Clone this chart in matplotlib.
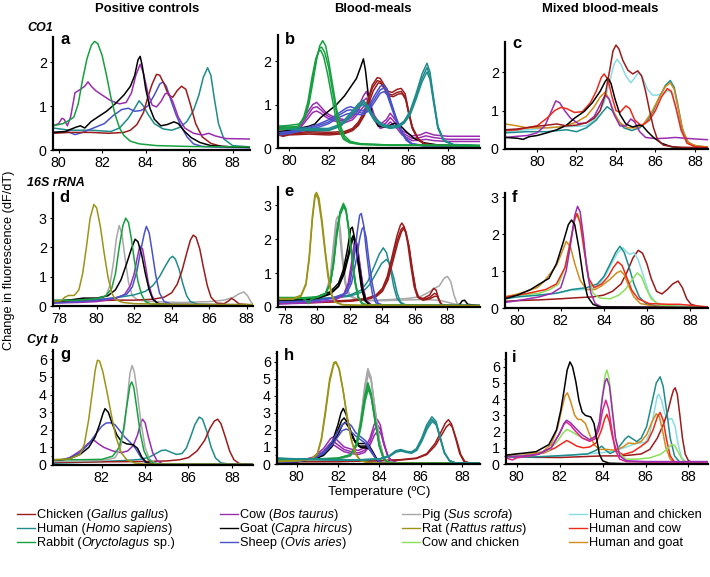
import matplotlib
matplotlib.use('Agg')
import matplotlib.pyplot as plt
from matplotlib.lines import Line2D
from matplotlib.ticker import MultipleLocator

plt.rcParams['font.family'] = ['Liberation Sans', 'DejaVu Sans']

# colours of the species / mixtures
C_CHICKEN = '#9b1c1c'
C_HUMAN = '#1f8c8c'
C_RABBIT = '#16a040'
C_COW = '#9a2db0'
C_GOAT = '#000000'
C_SHEEP = '#4a52c8'
C_PIG = '#a8a8a8'
C_RAT = '#9c9418'
C_COW_CHICKEN = '#8be05a'
C_HUMAN_CHICKEN = '#88dde4'
C_HUMAN_COW = '#ee2a1a'
C_HUMAN_GOAT = '#d08c1c'
C_PINK = '#e0208c'

# ---------------- CO1, positive controls (a) ----------------
a_rabbit = [(79.74,.55),(80.2,.6),(80.5,.68),(80.7,.75),(80.9,1.05),(81.1,1.6),(81.3,2.07),(81.5,2.38),(81.65,2.47),(81.8,2.42),(82.0,2.15),(82.2,1.7),(82.4,1.2),(82.6,.8),(82.8,.5),(83.0,.33),(83.3,.2),(83.7,.14),(84.5,.1),(86,.08),(88.8,.07)]
a_cow = [(79.74,.55),(80.0,.6),(80.15,.72),(80.25,.7),(80.4,.55),(80.55,.75),(80.75,1.3),(81.0,1.38),(81.2,1.45),(81.35,1.55),(81.5,1.45),(81.7,1.35),(82.0,1.25),(82.4,1.12),(82.8,1.05),(83.1,1.08),(83.35,1.3),(83.55,1.7),(83.75,1.95),(83.9,1.75),(84.1,1.3),(84.3,1.02),(84.5,.98),(84.7,1.1),(84.9,1.28),(85.05,1.3),(85.25,1.1),(85.5,.75),(85.8,.5),(86.2,.38),(86.6,.34),(86.9,.38),(87.2,.32),(87.7,.26),(88.8,.25)]
a_goat = [(79.74,.4),(80.3,.42),(80.8,.52),(81.0,.55),(81.2,.5),(81.5,.65),(81.8,.75),(82.2,.88),(82.6,1.05),(83.0,1.25),(83.3,1.45),(83.5,1.7),(83.65,2.05),(83.75,2.13),(83.85,1.9),(84.0,1.4),(84.2,.95),(84.4,.7),(84.7,.55),(85.0,.58),(85.3,.64),(85.5,.6),(85.8,.42),(86.1,.28),(86.5,.17),(87.0,.1),(88.0,.07),(88.8,.06)]
a_chicken = [(79.74,.38),(80.5,.4),(81.5,.4),(82.3,.38),(83.0,.4),(83.3,.45),(83.6,.58),(83.9,.85),(84.1,1.2),(84.3,1.5),(84.5,1.72),(84.65,1.7),(84.85,1.5),(85.05,1.25),(85.25,1.2),(85.45,1.35),(85.65,1.45),(85.85,1.38),(86.05,1.05),(86.3,.6),(86.6,.3),(87.0,.15),(87.5,.08),(88.8,.06)]
a_sheep = [(79.74,.4),(80.4,.42),(80.75,.35),(81.1,.4),(81.6,.5),(82.1,.6),(82.5,.78),(82.9,.92),(83.2,.95),(83.5,.88),(83.8,.9),(84.1,1.0),(84.4,1.25),(84.65,1.5),(84.8,1.55),(84.95,1.45),(85.15,1.15),(85.4,.8),(85.65,.52),(85.9,.3),(86.2,.14),(86.6,.08),(87.5,.06),(88.8,.05)]
a_human = [(79.74,.5),(80.5,.45),(81.5,.45),(82.4,.42),(82.8,.5),(83.2,.72),(83.5,.95),(83.7,1.12),(83.9,1.0),(84.1,.82),(84.4,.6),(84.8,.48),(85.2,.45),(85.6,.52),(85.9,.65),(86.2,.9),(86.45,1.25),(86.65,1.65),(86.85,1.87),(87.0,1.7),(87.15,1.2),(87.35,.6),(87.6,.25),(88.0,.1),(88.8,.07)]

# ---------------- CO1, blood-meals (b) ----------------
b_rabbit_1 = [(79.45,.5),(80.0,.52),(80.5,.55),(80.8,.7),(81.0,1.0),(81.2,1.5),(81.4,2.05),(81.55,2.35),(81.7,2.47),(81.85,2.35),(82.0,2.0),(82.2,1.45),(82.4,.9),(82.6,.5),(82.8,.28),(83.1,.15),(83.6,.1),(85,.07),(89.6,.06)]
b_rabbit_2 = [(79.45,.45),(80.0,.48),(80.5,.5),(80.8,.72),(81.0,1.05),(81.2,1.6),(81.4,2.1),(81.55,2.3),(81.65,2.32),(81.8,2.2),(82.0,1.85),(82.2,1.3),(82.4,.8),(82.6,.42),(82.8,.22),(83.1,.13),(83.6,.09),(85,.07),(89.6,.05)]
b_rabbit_3 = [(79.45,.42),(80.0,.45),(80.5,.5),(80.75,.72),(80.95,1.05),(81.15,1.6),(81.35,2.05),(81.5,2.22),(81.6,2.25),(81.75,2.1),(81.95,1.7),(82.15,1.2),(82.35,.72),(82.55,.38),(82.75,.2),(83.05,.12),(83.6,.08),(85,.06),(89.6,.05)]
b_goat = [(79.45,.38),(80.0,.4),(80.5,.45),(81.0,.5),(81.3,.55),(81.6,.7),(82.0,.85),(82.4,1.0),(82.8,1.2),(83.1,1.4),(83.4,1.6),(83.6,1.85),(83.75,2.05),(83.85,1.8),(84.0,1.2),(84.2,.75),(84.5,.5),(84.9,.48),(85.3,.57),(85.6,.52),(85.9,.38),(86.3,.22),(86.8,.12),(87.5,.07),(89.6,.05)]
b_chicken_1 = [(79.45,.35),(79.7,.28),(80.0,.33),(81.0,.38),(82.0,.36),(82.8,.38),(83.2,.45),(83.5,.6),(83.8,.85),(84.0,1.15),(84.2,1.45),(84.45,1.62),(84.6,1.6),(84.8,1.45),(85.0,1.3),(85.2,1.28),(85.45,1.35),(85.65,1.37),(85.85,1.25),(86.0,.9),(86.2,.5),(86.5,.22),(86.8,.1),(87.5,.06),(89.6,.05)]
b_chicken_2 = [(79.45,.33),(79.7,.3),(80.0,.32),(81.0,.35),(82.0,.33),(82.8,.35),(83.2,.42),(83.5,.55),(83.8,.8),(84.0,1.08),(84.2,1.38),(84.45,1.55),(84.6,1.53),(84.8,1.38),(85.0,1.25),(85.2,1.22),(85.45,1.28),(85.65,1.3),(85.85,1.18),(86.0,.85),(86.2,.46),(86.5,.2),(86.8,.09),(87.5,.05),(89.6,.05)]
b_chicken_3 = [(79.45,.3),(79.7,.27),(80.0,.3),(81.0,.32),(82.0,.3),(82.8,.33),(83.2,.4),(83.5,.52),(83.8,.75),(84.0,1.0),(84.25,1.32),(84.5,1.5),(84.65,1.48),(84.85,1.33),(85.05,1.2),(85.25,1.18),(85.5,1.24),(85.7,1.25),(85.9,1.1),(86.05,.78),(86.25,.42),(86.55,.18),(86.85,.08),(87.5,.05),(89.6,.04)]
b_cow_1 = [(79.45,.35),(80.0,.4),(80.5,.5),(80.9,.8),(81.2,1.0),(81.4,1.05),(81.6,.95),(81.9,.8),(82.3,.7),(82.8,.65),(83.2,.75),(83.5,.95),(83.75,1.2),(83.9,1.3),(84.05,1.1),(84.3,.75),(84.6,.55),(84.9,.65),(85.1,.8),(85.35,.65),(85.7,.4),(86.2,.28),(86.6,.3),(86.9,.36),(87.3,.3),(88.0,.27),(89.6,.27)]
b_cow_2 = [(79.45,.32),(80.0,.36),(80.5,.45),(80.9,.72),(81.2,.92),(81.4,.95),(81.6,.88),(81.9,.75),(82.3,.66),(82.8,.62),(83.2,.7),(83.5,.88),(83.75,1.08),(83.9,1.15),(84.05,1.0),(84.3,.7),(84.6,.5),(84.9,.58),(85.1,.7),(85.35,.58),(85.7,.35),(86.2,.22),(86.6,.24),(86.9,.28),(87.3,.24),(88.0,.2),(89.6,.2)]
b_cow_3 = [(79.45,.3),(80.0,.33),(80.5,.42),(80.9,.65),(81.2,.82),(81.4,.85),(81.6,.8),(81.9,.7),(82.3,.62),(82.8,.58),(83.2,.65),(83.5,.8),(83.75,.95),(83.9,1.0),(84.05,.9),(84.3,.65),(84.6,.45),(84.9,.5),(85.1,.6),(85.35,.5),(85.7,.3),(86.2,.17),(86.6,.18),(86.9,.2),(87.3,.17),(88.0,.15),(89.6,.15)]
b_sheep_1 = [(79.45,.35),(80.0,.38),(80.5,.42),(81.0,.48),(81.5,.55),(82.0,.65),(82.5,.8),(82.9,.92),(83.1,.95),(83.4,.9),(83.7,.85),(84.0,.95),(84.3,1.2),(84.6,1.42),(84.8,1.45),(84.95,1.35),(85.15,1.05),(85.4,.7),(85.65,.42),(85.9,.22),(86.2,.1),(86.8,.06),(89.6,.05)]
b_sheep_2 = [(79.45,.33),(80.0,.36),(80.5,.4),(81.0,.45),(81.5,.52),(82.0,.6),(82.5,.75),(82.9,.86),(83.1,.88),(83.4,.84),(83.7,.8),(84.0,.9),(84.3,1.12),(84.6,1.34),(84.8,1.38),(84.95,1.28),(85.15,1.0),(85.4,.66),(85.65,.4),(85.9,.2),(86.2,.09),(86.8,.05),(89.6,.05)]
b_sheep_3 = [(79.45,.3),(80.0,.33),(80.5,.38),(81.0,.42),(81.5,.48),(82.0,.56),(82.5,.7),(82.9,.78),(83.1,.8),(83.4,.78),(83.7,.76),(84.0,.85),(84.3,1.05),(84.6,1.26),(84.8,1.3),(84.95,1.22),(85.15,.95),(85.4,.62),(85.65,.37),(85.9,.18),(86.2,.08),(86.8,.05),(89.6,.04)]
b_human_1 = [(79.45,.5),(80.0,.48),(81.0,.45),(82.0,.45),(82.6,.55),(83.1,.8),(83.5,1.02),(83.75,1.1),(84.0,.95),(84.3,.7),(84.7,.55),(85.1,.5),(85.5,.52),(85.8,.62),(86.1,.85),(86.4,1.25),(86.7,1.7),(86.95,1.95),(87.1,1.75),(87.3,1.1),(87.5,.5),(87.8,.18),(88.3,.08),(89.6,.06)]
b_human_2 = [(79.45,.47),(80.0,.45),(81.0,.43),(82.0,.42),(82.6,.52),(83.1,.76),(83.5,.98),(83.75,1.05),(84.0,.9),(84.3,.66),(84.7,.52),(85.1,.47),(85.5,.5),(85.8,.6),(86.1,.8),(86.4,1.18),(86.7,1.6),(86.95,1.85),(87.1,1.66),(87.3,1.05),(87.5,.48),(87.8,.17),(88.3,.07),(89.6,.05)]
b_human_3 = [(79.45,.45),(80.0,.43),(81.0,.4),(82.0,.4),(82.6,.5),(83.1,.72),(83.5,.94),(83.75,1.0),(84.0,.86),(84.3,.63),(84.7,.5),(85.1,.45),(85.5,.48),(85.8,.57),(86.1,.76),(86.4,1.12),(86.7,1.52),(86.95,1.75),(87.1,1.58),(87.3,1.0),(87.5,.45),(87.8,.16),(88.3,.07),(89.6,.05)]

# ---------------- CO1, mixed blood-meals (c) ----------------
c_chicken = [(78.4,.5),(79.0,.52),(79.8,.58),(80.5,.62),(81.0,.65),(81.5,.6),(82.0,.62),(82.5,.68),(82.9,.8),(83.2,1.0),(83.45,1.4),(83.7,2.1),(83.85,2.55),(84.0,2.7),(84.15,2.6),(84.35,2.3),(84.6,2.05),(84.85,1.95),(85.1,2.03),(85.3,1.9),(85.5,1.5),(85.7,1.0),(85.9,.55),(86.1,.25),(86.4,.1),(87.0,.05),(88.7,.03)]
c_human_chicken = [(78.4,.45),(79.5,.5),(80.5,.55),(81.5,.58),(82.5,.6),(83.0,.8),(83.4,1.2),(83.7,1.8),(83.9,2.2),(84.05,2.33),(84.25,2.2),(84.5,1.9),(84.75,1.72),(84.95,1.85),(85.15,2.0),(85.35,1.85),(85.6,1.55),(85.85,1.4),(86.1,1.4),(86.4,1.45),(86.65,1.52),(86.85,1.45),(87.05,1.0),(87.3,.45),(87.6,.15),(88.0,.07),(88.7,.05)]
c_human = [(78.4,.42),(79.5,.45),(80.5,.45),(81.5,.5),(82.0,.45),(82.5,.55),(83.0,.75),(83.3,.95),(83.55,1.1),(83.8,1.0),(84.1,.75),(84.4,.55),(84.8,.48),(85.2,.55),(85.6,.75),(85.9,1.0),(86.2,1.35),(86.5,1.65),(86.75,1.78),(86.95,1.6),(87.15,1.1),(87.35,.55),(87.6,.2),(88.0,.08),(88.7,.05)]
c_human_goat = [(78.4,.65),(79.0,.6),(79.5,.55),(80.5,.55),(81.3,.58),(82.0,.7),(82.5,.85),(82.9,1.1),(83.2,1.35),(83.45,1.48),(83.65,1.3),(83.9,.95),(84.2,.68),(84.6,.55),(85.0,.55),(85.4,.65),(85.8,.95),(86.2,1.35),(86.5,1.62),(86.75,1.72),(86.95,1.55),(87.15,1.05),(87.4,.45),(87.7,.15),(88.1,.08),(88.7,.05)]
c_human_cow = [(78.4,.48),(79.0,.5),(79.5,.55),(80.0,.6),(80.5,.8),(80.9,1.0),(81.2,1.08),(81.5,1.05),(81.9,.95),(82.3,.97),(82.7,1.2),(83.0,1.5),(83.25,1.85),(83.4,1.95),(83.6,1.8),(83.8,1.35),(84.0,1.0),(84.2,.95),(84.5,1.12),(84.7,1.05),(84.95,.75),(85.3,.6),(85.7,.75),(86.0,1.0),(86.3,1.35),(86.6,1.57),(86.8,1.5),(87.05,1.05),(87.3,.5),(87.6,.15),(88.0,.06),(88.7,.04)]
c_cow = [(78.4,.3),(79.0,.33),(79.5,.35),(80.0,.42),(80.4,.6),(80.7,.95),(80.95,1.25),(81.15,1.2),(81.4,1.0),(81.7,.8),(82.1,.66),(82.5,.68),(82.9,.85),(83.2,1.15),(83.45,1.4),(83.65,1.3),(83.9,.9),(84.2,.6),(84.5,.6),(84.75,.78),(84.95,.7),(85.2,.45),(85.5,.3),(86.0,.27),(86.5,.28),(87.0,.3),(87.5,.28),(88.0,.26),(88.7,.24)]
c_goat = [(78.4,.3),(79.0,.28),(79.3,.25),(79.6,.32),(80.0,.35),(80.5,.42),(81.0,.5),(81.5,.62),(81.9,.8),(82.4,.98),(82.8,1.2),(83.2,1.5),(83.45,1.75),(83.6,1.85),(83.75,1.7),(83.95,1.3),(84.2,.9),(84.5,.65),(84.85,.57),(85.15,.62),(85.35,.6),(85.6,.45),(85.9,.3),(86.3,.15),(86.8,.06),(87.5,.02),(88.7,.01)]

# ---------------- 16S rRNA, positive controls (d) ----------------
d_rat = [(77.67,.15),(78.1,.18),(78.3,.3),(78.5,.36),(78.8,.36),(79.05,.55),(79.25,1.1),(79.45,2.0),(79.65,3.0),(79.85,3.47),(80.0,3.35),(80.2,2.7),(80.4,1.8),(80.6,1.0),(80.8,.45),(81.0,.22),(81.4,.12),(82.0,.08),(84,.06),(88.4,.05)]
d_pig = [(77.67,.12),(79.0,.15),(80.0,.2),(80.5,.35),(80.7,.7),(80.9,1.5),(81.05,2.3),(81.2,2.75),(81.35,2.45),(81.5,1.7),(81.7,.8),(81.9,.35),(82.2,.2),(83,.15),(84.5,.12),(86,.15),(86.8,.2),(87.3,.3),(87.6,.42),(87.85,.48),(88.05,.35),(88.25,.12),(88.4,.05)]
d_rabbit = [(77.67,.18),(79.0,.2),(80.0,.25),(80.5,.35),(80.8,.6),(81.0,1.1),(81.2,2.0),(81.4,2.75),(81.55,3.0),(81.7,2.85),(81.85,2.3),(82.0,1.6),(82.2,.85),(82.4,.38),(82.6,.15),(82.9,.07),(84.0,.04),(88.4,.03)]
d_goat = [(77.67,.15),(78.5,.2),(79.3,.27),(80.0,.27),(80.6,.35),(81.0,.55),(81.3,.9),(81.6,1.45),(81.85,1.95),(82.05,2.28),(82.2,2.2),(82.4,1.75),(82.6,1.1),(82.8,.55),(83.0,.22),(83.3,.08),(84,.04),(88.4,.03)]
d_cow = [(77.67,.1),(79.0,.12),(80.0,.15),(81.0,.25),(81.5,.4),(81.8,.7),(82.0,1.1),(82.15,1.6),(82.3,2.05),(82.45,1.95),(82.6,1.4),(82.75,.8),(82.95,.35),(83.2,.1),(83.6,.05),(88.4,.04)]
d_sheep = [(77.67,.1),(79.0,.15),(80.0,.2),(81.0,.28),(81.6,.4),(81.9,.65),(82.15,1.2),(82.35,1.9),(82.55,2.5),(82.65,2.72),(82.8,2.5),(82.95,1.9),(83.15,1.05),(83.35,.45),(83.6,.15),(84.0,.06),(88.4,.04)]
d_human = [(77.67,.2),(79.0,.2),(80.0,.22),(81.0,.28),(82.0,.38),(82.6,.5),(83.0,.7),(83.35,1.0),(83.65,1.35),(83.9,1.62),(84.05,1.7),(84.2,1.6),(84.4,1.25),(84.6,.75),(84.8,.35),(85.0,.15),(85.4,.06),(86.5,.04),(88.4,.03)]
d_chicken = [(77.67,.15),(79.0,.17),(80.0,.18),(81.0,.2),(82.0,.2),(83.0,.23),(83.6,.3),(84.0,.45),(84.3,.75),(84.55,1.2),(84.8,1.8),(85.0,2.25),(85.15,2.42),(85.3,2.35),(85.5,1.95),(85.7,1.3),(85.9,.7),(86.1,.3),(86.4,.1),(86.8,.08),(87.05,.18),(87.2,.26),(87.35,.2),(87.6,.07),(88.4,.03)]

# ---------------- 16S rRNA, blood-meals (e) ----------------
e_rat_1 = [(77.58,.25),(78.5,.25),(79.0,.35),(79.3,.7),(79.5,1.5),(79.7,2.7),(79.85,3.3),(79.95,3.37),(80.1,3.2),(80.3,2.5),(80.5,1.6),(80.7,.85),(80.9,.35),(81.1,.15),(81.5,.07),(82.5,.05),(90,.04)]
e_rat_2 = [(77.58,.22),(78.5,.23),(79.0,.32),(79.3,.65),(79.5,1.4),(79.7,2.6),(79.85,3.22),(79.92,3.3),(80.05,3.18),(80.25,2.55),(80.45,1.7),(80.65,.9),(80.85,.38),(81.05,.16),(81.5,.07),(82.5,.05),(90,.04)]
e_pig_1 = [(77.58,.2),(79.0,.22),(80.0,.28),(80.5,.4),(80.8,.9),(81.0,1.9),(81.15,2.55),(81.25,2.67),(81.4,2.35),(81.55,1.5),(81.75,.7),(82.0,.35),(82.5,.22),(83.5,.2),(84.5,.22),(85.5,.25),(86.3,.3),(86.8,.42),(87.2,.55),(87.5,.62),(87.8,.85),(88.0,.9),(88.2,.75),(88.4,.35),(88.6,.1),(89.0,.05),(90,.04)]
e_pig_2 = [(77.58,.18),(79.0,.2),(80.0,.25),(80.5,.36),(80.8,.8),(81.0,1.7),(81.15,2.4),(81.22,2.5),(81.35,2.25),(81.5,1.5),(81.7,.7),(81.95,.33),(82.5,.2),(83.5,.18),(85.0,.2),(86.5,.22),(87.5,.2),(88.5,.08),(90,.04)]
e_rabbit_1 = [(77.58,.28),(79.0,.28),(79.3,.2),(79.45,.1),(79.6,.22),(80.0,.3),(80.5,.4),(80.8,.7),(81.0,1.3),(81.2,2.2),(81.4,2.8),(81.6,3.05),(81.75,2.9),(81.9,2.4),(82.1,1.6),(82.3,.8),(82.5,.3),(82.75,.1),(83.2,.05),(90,.04)]
e_rabbit_2 = [(77.58,.26),(79.0,.27),(80.0,.3),(80.5,.4),(80.8,.72),(81.0,1.35),(81.2,2.25),(81.4,2.8),(81.6,3.0),(81.75,2.85),(81.9,2.35),(82.1,1.55),(82.3,.75),(82.5,.28),(82.75,.09),(83.2,.05),(90,.04)]
e_rabbit_3 = [(77.58,.24),(79.0,.25),(80.0,.28),(80.5,.38),(80.8,.68),(81.0,1.25),(81.2,2.1),(81.4,2.7),(81.62,2.95),(81.78,2.8),(81.95,2.25),(82.15,1.45),(82.35,.7),(82.55,.26),(82.8,.08),(83.2,.05),(90,.04)]
e_goat_1 = [(77.58,.2),(79.0,.22),(80.0,.3),(80.8,.45),(81.3,.7),(81.6,1.1),(81.85,1.7),(82.05,2.3),(82.15,2.35),(82.3,2.0),(82.5,1.3),(82.7,.6),(82.9,.2),(83.2,.07),(84,.04),(88.7,.04),(88.9,.18),(89.05,.2),(89.25,.08),(90,.03)]
e_goat_2 = [(77.58,.18),(79.0,.2),(80.0,.27),(80.8,.4),(81.3,.62),(81.6,.98),(81.9,1.55),(82.1,2.0),(82.2,2.1),(82.35,1.85),(82.55,1.2),(82.75,.55),(82.95,.18),(83.2,.07),(84,.04),(90,.03)]
e_goat_3 = [(77.58,.17),(79.0,.19),(80.0,.25),(80.8,.38),(81.3,.6),(81.65,.98),(81.95,1.55),(82.15,1.95),(82.25,2.05),(82.4,1.8),(82.6,1.15),(82.8,.5),(83.0,.16),(83.25,.06),(84,.04),(90,.03)]
e_cow_1 = [(77.58,.1),(79.0,.12),(80.0,.15),(81.0,.2),(81.6,.35),(81.9,.7),(82.1,1.3),(82.3,2.0),(82.45,1.85),(82.6,1.3),(82.8,.6),(83.0,.2),(83.3,.07),(84,.04),(90,.04)]
e_cow_2 = [(77.58,.09),(79.0,.11),(80.0,.14),(81.0,.19),(81.6,.33),(81.9,.65),(82.12,1.2),(82.32,1.85),(82.47,1.72),(82.62,1.2),(82.82,.55),(83.0,.18),(83.3,.06),(84,.04),(90,.04)]
e_sheep_1 = [(77.58,.15),(79.0,.17),(80.0,.2),(81.0,.28),(81.7,.4),(82.0,.7),(82.25,1.4),(82.45,2.2),(82.6,2.7),(82.7,2.75),(82.85,2.4),(83.0,1.7),(83.2,.9),(83.4,.35),(83.6,.12),(84.0,.05),(90,.04)]
e_sheep_2 = [(77.58,.14),(79.0,.16),(80.0,.19),(81.0,.26),(81.8,.4),(82.1,.7),(82.4,1.4),(82.6,2.0),(82.75,2.3),(82.85,2.35),(83.0,2.05),(83.15,1.45),(83.35,.75),(83.55,.3),(83.75,.1),(84.1,.05),(90,.04)]
e_human_1 = [(77.58,.22),(79.0,.22),(80.0,.25),(81.0,.28),(82.0,.35),(82.7,.5),(83.1,.75),(83.5,1.2),(83.8,1.55),(84.05,1.74),(84.25,1.6),(84.5,1.1),(84.7,.6),(84.9,.25),(85.2,.08),(86,.04),(90,.04)]
e_human_2 = [(77.58,.2),(79.0,.2),(80.0,.23),(81.0,.26),(82.0,.32),(82.8,.45),(83.2,.65),(83.6,.98),(83.95,1.28),(84.25,1.4),(84.45,1.28),(84.7,.85),(84.9,.42),(85.1,.15),(85.4,.06),(86,.04),(90,.04)]
e_chicken_1 = [(77.58,.12),(80.0,.15),(82.0,.2),(83.0,.25),(83.6,.35),(84.0,.55),(84.3,.9),(84.6,1.5),(84.9,2.1),(85.1,2.4),(85.2,2.47),(85.35,2.35),(85.55,1.9),(85.75,1.2),(85.95,.6),(86.15,.3),(86.5,.25),(86.9,.35),(87.15,.55),(87.3,.5),(87.45,.25),(87.6,.08),(88,.04),(90,.03)]
e_chicken_2 = [(77.58,.11),(80.0,.14),(82.0,.18),(83.0,.23),(83.6,.32),(84.0,.5),(84.3,.82),(84.6,1.38),(84.9,1.95),(85.15,2.28),(85.28,2.35),(85.42,2.25),(85.62,1.8),(85.82,1.12),(86.02,.55),(86.2,.28),(86.5,.22),(86.9,.28),(87.2,.4),(87.35,.37),(87.5,.18),(87.65,.06),(88,.04),(90,.03)]
e_chicken_3 = [(77.58,.1),(80.0,.13),(82.0,.17),(83.0,.22),(83.6,.3),(84.0,.46),(84.35,.8),(84.65,1.35),(84.95,1.9),(85.18,2.22),(85.3,2.3),(85.45,2.2),(85.65,1.75),(85.85,1.08),(86.05,.52),(86.25,.26),(86.5,.2),(86.9,.24),(87.25,.32),(87.4,.3),(87.55,.14),(87.7,.05),(88,.04),(90,.03)]

# ---------------- 16S rRNA, mixed blood-meals (f) ----------------
f_goat = [(79.41,.25),(80.0,.35),(80.6,.5),(81.1,.68),(81.3,.75),(81.45,.8),(81.8,1.2),(82.1,1.75),(82.35,2.25),(82.5,2.38),(82.65,2.25),(82.85,1.6),(83.05,.8),(83.25,.3),(83.5,.1),(83.8,.03),(88.84,.01)]
f_cow = [(79.41,.15),(80.0,.2),(81.0,.3),(81.6,.4),(82.0,.55),(82.25,1.0),(82.45,1.7),(82.65,2.5),(82.78,2.75),(82.9,2.6),(83.05,1.95),(83.2,1.1),(83.4,.4),(83.6,.12),(83.9,.03),(88.84,.01)]
f_cow_chicken = [(79.41,.3),(80.0,.35),(81.0,.4),(81.5,.5),(81.9,.65),(82.2,1.1),(82.45,1.8),(82.65,2.4),(82.78,2.55),(82.92,2.35),(83.1,1.6),(83.3,.8),(83.5,.4),(83.8,.27),(84.3,.25),(84.7,.35),(85.0,.5),(85.3,.75),(85.55,.95),(85.75,.85),(85.95,.55),(86.2,.25),(86.6,.08),(87.5,.04),(88.84,.02)]
f_human_cow = [(79.41,.3),(80.0,.35),(80.5,.4),(81.3,.5),(81.8,.65),(82.2,1.1),(82.45,1.8),(82.65,2.4),(82.75,2.55),(82.9,2.3),(83.1,1.5),(83.3,.8),(83.55,.55),(83.9,.65),(84.2,.85),(84.45,1.1),(84.65,1.25),(84.85,1.15),(85.05,.85),(85.3,.48),(85.6,.25),(86.1,.12),(87.0,.1),(87.5,.1),(88.84,.03)]
f_human_goat = [(79.41,.3),(80.0,.38),(80.4,.45),(80.9,.55),(81.2,.7),(81.4,.85),(81.8,1.15),(82.05,1.5),(82.25,1.8),(82.45,1.65),(82.65,1.2),(82.9,.75),(83.2,.5),(83.6,.5),(83.9,.6),(84.3,.78),(84.6,.95),(84.78,1.0),(84.95,.9),(85.15,.6),(85.4,.3),(85.7,.12),(86.3,.05),(88.84,.02)]
f_human = [(79.41,.25),(80.0,.3),(81.0,.35),(81.8,.4),(82.5,.5),(83.2,.55),(83.7,.65),(84.0,.85),(84.3,1.2),(84.55,1.5),(84.75,1.67),(84.95,1.5),(85.15,1.15),(85.4,.65),(85.65,.3),(85.95,.12),(86.5,.05),(88.84,.02)]
f_human_chicken = [(79.41,.3),(80.0,.33),(81.0,.35),(81.8,.4),(82.5,.48),(83.0,.5),(83.4,.5),(83.8,.65),(84.1,.9),(84.4,1.25),(84.65,1.5),(84.88,1.63),(85.05,1.52),(85.2,1.45),(85.4,1.5),(85.6,1.3),(85.85,.85),(86.1,.4),(86.4,.15),(86.8,.06),(88.84,.02)]
f_chicken = [(79.41,.18),(80.0,.2),(81.0,.22),(82.0,.25),(82.8,.28),(83.5,.3),(84.0,.35),(84.4,.45),(84.8,.65),(85.1,1.0),(85.35,1.35),(85.6,1.56),(85.8,1.48),(86.0,1.2),(86.2,.8),(86.45,.45),(86.7,.38),(86.95,.5),(87.2,.65),(87.45,.73),(87.65,.55),(87.85,.25),(88.05,.1),(88.4,.04),(88.84,.02)]

# ---------------- Cyt b, positive controls (g) ----------------
g_rat = [(79.75,.3),(80.5,.35),(81.0,.6),(81.2,1.2),(81.4,2.6),(81.55,4.0),(81.7,5.4),(81.8,5.95),(81.9,5.9),(82.05,5.3),(82.25,4.1),(82.45,2.8),(82.65,1.6),(82.9,.7),(83.15,.3),(83.5,.12),(84.0,.05),(88.98,.03)]
g_pig = [(79.75,.2),(81.0,.22),(82.0,.25),(82.6,.4),(82.85,.9),(83.05,2.2),(83.2,4.0),(83.3,5.2),(83.4,5.65),(83.5,5.3),(83.65,4.0),(83.8,2.5),(84.0,1.0),(84.2,.35),(84.45,.12),(84.8,.05),(88.98,.03)]
g_rabbit = [(79.75,.3),(81.0,.3),(82.0,.32),(82.5,.5),(82.8,1.0),(83.0,2.0),(83.15,3.3),(83.3,4.5),(83.38,4.72),(83.48,4.4),(83.62,3.2),(83.78,1.8),(83.95,.8),(84.15,.3),(84.4,.1),(84.8,.04),(88.98,.03)]
g_goat = [(79.75,.2),(80.5,.35),(81.0,.6),(81.4,1.0),(81.7,1.6),(81.9,2.3),(82.05,2.9),(82.15,3.2),(82.3,3.0),(82.5,2.3),(82.7,1.7),(82.9,1.35),(83.15,1.2),(83.45,1.15),(83.65,.95),(83.85,.45),(84.05,.15),(84.4,.05),(88.98,.03)]
g_sheep = [(79.75,.15),(80.5,.4),(81.0,.7),(81.4,1.2),(81.75,1.8),(82.0,2.2),(82.2,2.38),(82.4,2.4),(82.6,2.3),(82.8,2.0),(83.05,1.6),(83.3,1.3),(83.55,.95),(83.8,.45),(84.0,.15),(84.3,.05),(88.98,.03)]
g_cow = [(79.75,.2),(80.5,.4),(81.0,.8),(81.35,1.2),(81.6,1.45),(81.85,1.2),(82.1,1.0),(82.5,.8),(82.9,.7),(83.2,.8),(83.45,1.1),(83.65,1.7),(83.8,2.4),(83.88,2.6),(84.0,2.4),(84.15,1.6),(84.35,.7),(84.55,.25),(84.8,.07),(85.2,.04),(88.98,.03)]
g_human = [(79.75,.1),(81.0,.15),(82.0,.2),(83.0,.25),(83.8,.32),(84.2,.45),(84.5,.65),(84.75,.82),(84.95,.85),(85.2,.72),(85.45,.6),(85.7,.65),(85.9,.95),(86.1,1.6),(86.3,2.3),(86.5,2.72),(86.65,2.6),(86.85,1.9),(87.05,1.0),(87.25,.4),(87.5,.12),(87.9,.05),(88.98,.03)]
g_chicken = [(79.75,.15),(82.0,.18),(84.0,.2),(85.0,.23),(85.6,.3),(86.0,.42),(86.4,.8),(86.75,1.4),(87.0,2.1),(87.2,2.5),(87.35,2.6),(87.5,2.35),(87.7,1.6),(87.9,.8),(88.1,.3),(88.35,.08),(88.98,.03)]

# ---------------- Cyt b, blood-meals (h) ----------------
h_rat_1 = [(79.05,.15),(80.0,.2),(80.7,.3),(81.0,.6),(81.2,1.5),(81.4,3.2),(81.6,5.0),(81.8,5.95),(81.9,6.0),(82.05,5.6),(82.25,4.3),(82.45,2.7),(82.65,1.4),(82.85,.6),(83.1,.2),(83.5,.07),(84.5,.03),(88.88,.02)]
h_rat_2 = [(79.05,.14),(80.0,.19),(80.7,.28),(81.0,.55),(81.2,1.4),(81.4,3.0),(81.6,4.8),(81.8,5.85),(81.92,5.95),(82.07,5.55),(82.27,4.2),(82.47,2.6),(82.67,1.35),(82.87,.55),(83.1,.2),(83.5,.06),(84.5,.03),(88.88,.02)]
h_pig_1 = [(79.05,.2),(80.0,.22),(81.0,.25),(82.0,.3),(82.6,.5),(82.9,1.2),(83.1,2.6),(83.3,4.6),(83.45,5.6),(83.6,5.1),(83.8,3.2),(84.0,1.4),(84.2,.45),(84.4,.15),(84.8,.05),(88.88,.03)]
h_pig_2 = [(79.05,.19),(80.0,.21),(81.0,.24),(82.0,.28),(82.6,.48),(82.9,1.15),(83.1,2.5),(83.3,4.45),(83.45,5.45),(83.6,5.0),(83.8,3.1),(84.0,1.35),(84.2,.42),(84.4,.14),(84.8,.05),(88.88,.03)]
h_pig_3 = [(79.05,.18),(80.0,.2),(81.0,.23),(82.0,.27),(82.6,.46),(82.92,1.1),(83.12,2.4),(83.32,4.3),(83.47,5.3),(83.62,4.85),(83.82,3.0),(84.02,1.3),(84.22,.4),(84.42,.13),(84.8,.05),(88.88,.03)]
h_rabbit_1 = [(79.05,.25),(80.0,.28),(81.0,.3),(82.0,.35),(82.6,.55),(82.9,1.2),(83.1,2.4),(83.3,4.0),(83.45,4.77),(83.6,4.2),(83.8,2.6),(84.0,1.1),(84.2,.35),(84.4,.1),(84.8,.05),(88.88,.03)]
h_rabbit_2 = [(79.05,.24),(80.0,.27),(81.0,.29),(82.0,.33),(82.6,.52),(82.9,1.15),(83.1,2.3),(83.3,3.85),(83.45,4.55),(83.6,4.0),(83.8,2.5),(84.0,1.05),(84.2,.33),(84.4,.1),(84.8,.05),(88.88,.03)]
h_rabbit_3 = [(79.05,.23),(80.0,.26),(81.0,.28),(82.0,.32),(82.6,.5),(82.92,1.1),(83.12,2.2),(83.32,3.7),(83.47,4.4),(83.62,3.9),(83.82,2.4),(84.02,1.0),(84.22,.32),(84.42,.1),(84.8,.05),(88.88,.03)]
h_goat_1 = [(79.05,.1),(80.0,.15),(80.8,.3),(81.3,.6),(81.7,1.2),(82.0,2.3),(82.15,3.0),(82.26,3.26),(82.4,2.9),(82.6,2.0),(82.8,1.4),(83.0,1.2),(83.3,1.2),(83.5,1.1),(83.7,.7),(83.9,.25),(84.1,.08),(84.5,.03),(88.88,.02)]
h_goat_2 = [(79.05,.1),(80.0,.14),(80.8,.28),(81.3,.55),(81.7,1.1),(82.0,2.0),(82.18,2.55),(82.3,2.7),(82.45,2.45),(82.65,1.75),(82.85,1.25),(83.05,1.05),(83.3,1.05),(83.5,.98),(83.7,.62),(83.9,.22),(84.1,.07),(84.5,.03),(88.88,.02)]
h_goat_3 = [(79.05,.09),(80.0,.13),(80.8,.26),(81.3,.5),(81.7,1.0),(82.05,1.85),(82.22,2.3),(82.35,2.45),(82.5,2.2),(82.7,1.6),(82.9,1.15),(83.1,.97),(83.3,.95),(83.5,.9),(83.72,.55),(83.92,.2),(84.12,.06),(84.5,.03),(88.88,.02)]
h_sheep_1 = [(79.05,.1),(80.0,.15),(80.8,.35),(81.3,.7),(81.7,1.3),(82.0,1.9),(82.25,2.35),(82.45,2.44),(82.65,2.25),(82.85,1.85),(83.1,1.6),(83.35,1.35),(83.6,.8),(83.85,.3),(84.1,.08),(84.5,.03),(88.88,.02)]
h_sheep_2 = [(79.05,.1),(80.0,.14),(80.8,.3),(81.3,.6),(81.7,1.1),(82.0,1.6),(82.2,1.95),(82.4,2.05),(82.6,1.95),(82.85,1.65),(83.1,1.42),(83.35,1.2),(83.6,.72),(83.85,.28),(84.1,.07),(84.5,.03),(88.88,.02)]
h_cow_1 = [(79.05,.1),(80.0,.15),(80.8,.4),(81.3,.9),(81.65,1.5),(81.8,1.6),(82.0,1.35),(82.3,1.0),(82.7,.85),(83.0,.8),(83.3,.95),(83.55,1.5),(83.75,2.3),(83.9,2.63),(84.05,2.3),(84.2,1.4),(84.4,.5),(84.6,.15),(85.0,.05),(88.88,.03)]
h_cow_2 = [(79.05,.1),(80.0,.14),(80.8,.35),(81.3,.75),(81.65,1.25),(81.8,1.32),(82.0,1.12),(82.3,.85),(82.7,.7),(83.0,.66),(83.3,.8),(83.55,1.3),(83.75,2.0),(83.92,2.28),(84.07,2.0),(84.22,1.2),(84.42,.45),(84.62,.13),(85.0,.05),(88.88,.03)]
h_cow_3 = [(79.05,.09),(80.0,.13),(80.8,.3),(81.3,.62),(81.65,1.05),(81.82,1.1),(82.0,.95),(82.3,.72),(82.7,.6),(83.0,.56),(83.3,.68),(83.55,1.1),(83.77,1.7),(83.95,1.97),(84.1,1.72),(84.25,1.05),(84.45,.4),(84.65,.12),(85.0,.05),(88.88,.03)]
h_human_1 = [(79.05,.35),(80.0,.3),(81.0,.28),(82.0,.25),(83.0,.25),(84.0,.3),(84.5,.5),(84.8,.78),(85.05,.85),(85.3,.75),(85.55,.7),(85.8,.9),(86.05,1.5),(86.3,2.3),(86.55,2.77),(86.75,2.5),(86.95,1.6),(87.15,.7),(87.4,.2),(87.7,.06),(88.88,.03)]
h_human_2 = [(79.05,.33),(80.0,.29),(81.0,.27),(82.0,.24),(83.0,.24),(84.0,.29),(84.5,.47),(84.8,.74),(85.05,.8),(85.3,.71),(85.55,.66),(85.8,.85),(86.05,1.42),(86.3,2.15),(86.55,2.62),(86.75,2.38),(86.95,1.52),(87.15,.66),(87.4,.19),(87.7,.06),(88.88,.03)]
h_human_3 = [(79.05,.32),(80.0,.28),(81.0,.26),(82.0,.23),(83.0,.23),(84.0,.28),(84.5,.45),(84.82,.7),(85.07,.76),(85.32,.68),(85.57,.63),(85.82,.8),(86.07,1.35),(86.32,2.05),(86.57,2.5),(86.77,2.28),(86.97,1.45),(87.17,.62),(87.42,.18),(87.7,.06),(88.88,.03)]
h_chicken_1 = [(79.05,.15),(80.0,.15),(82.0,.15),(84.0,.2),(85.0,.25),(85.8,.35),(86.3,.6),(86.7,1.2),(87.0,1.9),(87.2,2.4),(87.35,2.6),(87.5,2.35),(87.7,1.5),(87.9,.6),(88.1,.15),(88.4,.04),(88.88,.02)]
h_chicken_2 = [(79.05,.14),(80.0,.14),(82.0,.14),(84.0,.19),(85.0,.23),(85.8,.32),(86.3,.55),(86.72,1.08),(87.02,1.7),(87.25,2.18),(87.4,2.35),(87.55,2.15),(87.75,1.4),(87.95,.55),(88.15,.14),(88.45,.04),(88.88,.02)]

# ---------------- Cyt b, mixed blood-meals (i) ----------------
i_goat = [(79.5,.55),(80.2,.65),(80.9,.76),(81.5,1.2),(81.85,2.1),(82.05,3.3),(82.2,4.5),(82.35,5.8),(82.48,6.3),(82.6,6.0),(82.75,5.1),(82.9,3.9),(83.05,3.2),(83.2,3.0),(83.45,2.9),(83.6,2.5),(83.72,1.6),(83.85,.6),(84.0,.2),(84.3,.05),(85.0,.02),(88.91,.01)]
i_human_goat = [(79.5,.5),(79.9,.6),(80.1,.65),(80.5,.6),(81.2,.75),(81.6,1.2),(81.9,2.2),(82.1,3.4),(82.25,4.2),(82.36,4.39),(82.5,3.9),(82.7,3.0),(82.85,2.75),(83.0,2.75),(83.2,2.5),(83.4,1.8),(83.6,1.2),(83.85,.9),(84.2,.9),(84.6,.85),(84.95,1.05),(85.2,1.3),(85.5,1.25),(85.8,1.4),(86.05,1.8),(86.3,2.6),(86.5,3.1),(86.65,2.9),(86.8,2.0),(86.95,1.0),(87.15,.3),(87.4,.08),(88.0,.03),(88.91,.02)]
i_cow_chicken = [(79.5,.45),(80.3,.5),(81.0,.6),(81.5,.85),(81.9,1.4),(82.15,1.9),(82.33,2.13),(82.55,2.0),(82.8,1.8),(83.1,1.6),(83.4,1.45),(83.65,1.6),(83.85,2.5),(84.0,4.3),(84.12,5.5),(84.2,5.8),(84.3,5.3),(84.45,3.5),(84.6,1.6),(84.8,.6),(85.1,.3),(85.6,.3),(86.2,.38),(86.7,.6),(87.0,.9),(87.2,1.2),(87.35,1.15),(87.5,.8),(87.7,.3),(87.9,.08),(88.91,.03)]
i_cow = [(79.5,.45),(80.3,.5),(81.0,.6),(81.6,1.0),(82.0,1.9),(82.2,2.5),(82.32,2.7),(82.5,2.55),(82.75,2.2),(83.05,1.8),(83.4,1.5),(83.65,1.7),(83.85,2.6),(84.0,4.2),(84.12,5.1),(84.2,5.28),(84.32,4.8),(84.45,3.3),(84.6,1.6),(84.8,.5),(85.1,.2),(86.0,.15),(88.91,.15)]
i_pink = [(79.5,.4),(79.65,.3),(79.8,.25),(80.0,.38),(80.5,.48),(81.0,.6),(81.6,1.0),(82.0,1.9),(82.2,2.45),(82.3,2.6),(82.5,2.4),(82.75,2.0),(83.05,1.6),(83.4,1.4),(83.65,1.55),(83.85,2.2),(84.0,3.3),(84.15,3.94),(84.28,3.4),(84.42,2.2),(84.58,.9),(84.8,.3),(85.1,.15),(86.0,.12),(88.91,.12)]
i_human_cow = [(79.5,.45),(80.5,.5),(81.3,.7),(81.8,1.0),(82.15,1.3),(82.33,1.45),(82.55,1.3),(82.8,1.1),(83.1,1.0),(83.4,1.05),(83.7,1.3),(83.95,2.1),(84.1,2.8),(84.2,3.06),(84.32,2.6),(84.47,1.6),(84.65,.8),(84.95,.58),(85.4,.75),(85.8,1.1),(86.1,1.4),(86.35,2.1),(86.55,2.9),(86.68,3.18),(86.82,2.7),(86.98,1.5),(87.15,.5),(87.35,.12),(87.7,.04),(88.91,.02)]
i_human_chicken = [(79.5,.45),(80.3,.42),(81.0,.4),(82.0,.5),(83.0,.6),(84.0,.7),(84.5,.8),(85.0,1.0),(85.5,1.25),(85.8,1.3),(86.0,1.35),(86.2,1.9),(86.4,3.2),(86.55,4.2),(86.62,4.31),(86.75,3.9),(86.9,3.1),(87.05,2.75),(87.22,2.81),(87.38,2.3),(87.52,1.2),(87.68,.4),(87.9,.1),(88.3,.03),(88.91,.02)]
i_human = [(79.5,.4),(80.5,.42),(81.5,.48),(82.5,.55),(83.3,.62),(83.7,.85),(83.96,1.1),(84.15,.85),(84.35,.65),(84.6,.8),(84.85,1.2),(85.05,1.55),(85.2,1.72),(85.4,1.55),(85.59,1.38),(85.8,1.6),(86.05,2.3),(86.3,3.8),(86.5,5.0),(86.68,5.38),(86.82,4.8),(86.98,3.3),(87.15,1.6),(87.35,.5),(87.6,.1),(88.0,.03),(88.91,.02)]
i_chicken = [(79.5,.45),(80.5,.42),(82.0,.4),(83.0,.45),(84.0,.5),(84.8,.5),(85.3,.55),(85.8,.62),(86.2,.9),(86.55,1.6),(86.85,2.5),(87.05,3.3),(87.2,4.1),(87.3,4.55),(87.38,4.7),(87.48,4.3),(87.6,3.0),(87.72,1.6),(87.85,.6),(88.0,.2),(88.3,.05),(88.91,.02)]

W, H = 710, 577


def box(l, t, r, b):
    return [l / W, 1 - b / H, (r - l) / W, (b - t) / H]


def fx(x):
    return x / W


def fy(y):
    return 1 - y / H


panels = [
    # rect, xlim, ylim, xticks, yticks, minor y, letter, letter pos, curves
    (box(53, 37, 250, 150), (79.74, 88.8), (0, 2.57), [80, 82, 84, 86, 88], [0, 1, 2], None, 'a', (65, 40),
     [(a_human, C_HUMAN), (a_sheep, C_SHEEP), (a_chicken, C_CHICKEN), (a_cow, C_COW), (a_goat, C_GOAT), (a_rabbit, C_RABBIT)]),
    (box(278, 35, 480, 148), (79.45, 89.62), (0, 2.6), [80, 82, 84, 86, 88], [0, 1, 2], None, 'b', (290, 40),
     [(b_cow_1, C_COW), (b_cow_2, C_COW), (b_cow_3, C_COW), (b_goat, C_GOAT),
      (b_chicken_1, C_CHICKEN), (b_chicken_2, C_CHICKEN), (b_chicken_3, C_CHICKEN),
      (b_sheep_1, C_SHEEP), (b_sheep_2, C_SHEEP), (b_sheep_3, C_SHEEP),
      (b_human_1, C_HUMAN), (b_human_2, C_HUMAN), (b_human_3, C_HUMAN),
      (b_rabbit_1, C_RABBIT), (b_rabbit_2, C_RABBIT), (b_rabbit_3, C_RABBIT)]),
    (box(505, 42, 708, 149), (78.38, 88.66), (0, 2.78), [80, 82, 84, 86, 88], [0, 1, 2], None, 'c', (517, 44),
     [(c_human_chicken, C_HUMAN_CHICKEN), (c_human, C_HUMAN), (c_human_goat, C_HUMAN_GOAT), (c_cow, C_COW),
      (c_human_cow, C_HUMAN_COW), (c_goat, C_GOAT), (c_chicken, C_CHICKEN)]),
    (box(53, 193, 253, 306), (77.67, 88.34), (0, 3.86), [78, 80, 82, 84, 86, 88], [0, 1, 2, 3], None, 'd', (64, 198),
     [(d_pig, C_PIG), (d_human, C_HUMAN), (d_chicken, C_CHICKEN), (d_cow, C_COW), (d_sheep, C_SHEEP),
      (d_goat, C_GOAT), (d_rabbit, C_RABBIT), (d_rat, C_RAT)]),
    (box(278, 187, 480, 307), (77.58, 90.0), (0, 3.53), [78, 80, 82, 84, 86, 88], [0, 1, 2, 3], None, 'e', (289, 191),
     [(e_pig_1, C_PIG), (e_pig_2, C_PIG), (e_human_1, C_HUMAN), (e_human_2, C_HUMAN),
      (e_chicken_1, C_CHICKEN), (e_chicken_2, C_CHICKEN), (e_chicken_3, C_CHICKEN),
      (e_cow_1, C_COW), (e_cow_2, C_COW), (e_goat_1, C_GOAT), (e_goat_2, C_GOAT), (e_goat_3, C_GOAT),
      (e_sheep_1, C_SHEEP), (e_sheep_2, C_SHEEP),
      (e_rabbit_1, C_RABBIT), (e_rabbit_2, C_RABBIT), (e_rabbit_3, C_RABBIT), (e_rat_1, C_RAT), (e_rat_2, C_RAT)]),
    (box(505, 193, 708, 308), (79.41, 88.84), (0, 3.11), [80, 82, 84, 86, 88], [0, 1, 2, 3], None, 'f', (515, 198),
     [(f_chicken, C_CHICKEN), (f_human_chicken, C_HUMAN_CHICKEN), (f_human, C_HUMAN), (f_human_goat, C_HUMAN_GOAT),
      (f_cow_chicken, C_COW_CHICKEN), (f_human_cow, C_HUMAN_COW), (f_cow, C_COW), (f_goat, C_GOAT)]),
    (box(53, 350, 253, 465), (79.75, 88.98), (0, 6.53), [82, 84, 86, 88], [0, 1, 2, 3, 4, 5, 6], 0.5, 'g', (65, 354),
     [(g_human, C_HUMAN), (g_chicken, C_CHICKEN), (g_cow, C_COW), (g_sheep, C_SHEEP), (g_goat, C_GOAT),
      (g_pig, C_PIG), (g_rabbit, C_RABBIT), (g_rat, C_RAT)]),
    (box(277, 352, 480, 464), (79.05, 88.88), (0, 6.57), [80, 82, 84, 86, 88], [0, 1, 2, 3, 4, 5, 6], 0.5, 'h', (289, 355),
     [(h_chicken_1, C_CHICKEN), (h_chicken_2, C_CHICKEN), (h_cow_1, C_COW), (h_cow_2, C_COW), (h_cow_3, C_COW),
      (h_goat_1, C_GOAT), (h_goat_2, C_GOAT), (h_goat_3, C_GOAT), (h_sheep_1, C_SHEEP), (h_sheep_2, C_SHEEP),
      (h_pig_1, C_PIG), (h_pig_2, C_PIG), (h_pig_3, C_PIG),
      (h_rabbit_1, C_RABBIT), (h_rabbit_2, C_RABBIT), (h_rabbit_3, C_RABBIT), (h_rat_1, C_RAT), (h_rat_2, C_RAT),
      (h_human_1, C_HUMAN), (h_human_2, C_HUMAN), (h_human_3, C_HUMAN)]),
    (box(506, 353, 708, 464), (79.5, 88.91), (0, 6.85), [80, 82, 84, 86, 88], [0, 1, 2, 3, 4, 5, 6], 0.5, 'i', (514, 358),
     [(i_human_chicken, C_HUMAN_CHICKEN), (i_chicken, C_CHICKEN), (i_human, C_HUMAN), (i_human_goat, C_HUMAN_GOAT),
      (i_human_cow, C_HUMAN_COW), (i_cow_chicken, C_COW_CHICKEN), (i_pink, C_PINK), (i_cow, C_COW), (i_goat, C_GOAT)]),
]

fig = plt.figure(figsize=(7.1, 5.77), dpi=100)

for rect, xlim, ylim, xt, yt, yminor, letter, lpos, curves in panels:
    ax = fig.add_axes(rect)
    for pts, col in curves:
        xs, ys = zip(*pts)
        ax.plot(xs, ys, color=col, lw=1.1)
    ax.set_xlim(*xlim)
    ax.set_ylim(*ylim)
    ax.set_xticks(xt)
    ax.set_yticks(yt)
    if yminor:
        ax.yaxis.set_minor_locator(MultipleLocator(yminor))
        ax.tick_params(axis='y', which='minor', length=1.5, width=0.6)
    ax.spines['top'].set_visible(False)
    ax.spines['right'].set_visible(False)
    ax.spines['left'].set_linewidth(1.6)
    ax.spines['bottom'].set_linewidth(1.6)
    ax.tick_params(which='major', labelsize=10.3, length=2.5, width=0.8, pad=2)
    ax.patch.set_alpha(0)
    fig.text(fx(lpos[0]), fy(lpos[1]), letter, fontsize=12, fontweight='bold', ha='center', va='center')

# column titles and gene labels
fig.text(fx(147), fy(9), 'Positive controls', fontsize=9.4, fontweight='bold', ha='center', va='center')
fig.text(fx(373), fy(9), 'Blood-meals', fontsize=9.4, fontweight='bold', ha='center', va='center')
fig.text(fx(600), fy(9), 'Mixed blood-meals', fontsize=9.4, fontweight='bold', ha='center', va='center')
fig.text(fx(27), fy(28), 'CO1', fontsize=9, fontweight='bold', style='italic', ha='left', va='center')
fig.text(fx(27), fy(183), '16S rRNA', fontsize=9, fontweight='bold', style='italic', ha='left', va='center')
fig.text(fx(27), fy(340), 'Cyt b', fontsize=9, fontweight='bold', style='italic', ha='left', va='center')

fig.text(fx(9), fy(260), 'Change in fluorescence (dF/dT)', fontsize=9.2, rotation=90, ha='center', va='center')
fig.text(fx(379), fy(492), 'Temperature (ºC)', fontsize=9.6, ha='center', va='center')

# legend, four columns of three rows (plain and italic parts as separate texts)
legend_cols = [
    [(('Chicken (', 'Gallus gallus', ')'), C_CHICKEN),
     (('Human (', 'Homo sapiens', ')'), C_HUMAN),
     (('Rabbit (', 'Oryctolagus', ' sp.)'), C_RABBIT)],
    [(('Cow (', 'Bos taurus', ')'), C_COW),
     (('Goat (', 'Capra hircus', ')'), C_GOAT),
     (('Sheep (', 'Ovis aries', ')'), C_SHEEP)],
    [(('Pig (', 'Sus scrofa', ')'), C_PIG),
     (('Rat (', 'Rattus rattus', ')'), C_RAT),
     (('Cow and chicken', '', ''), C_COW_CHICKEN)],
    [(('Human and chicken', '', ''), C_HUMAN_CHICKEN),
     (('Human and cow', '', ''), C_HUMAN_COW),
     (('Human and goat', '', ''), C_HUMAN_GOAT)],
]
legend_x = [17, 220, 402, 569]
legend_rows = [514, 528, 542]
renderer = fig.canvas.get_renderer()
for col_items, lx in zip(legend_cols, legend_x):
    for (parts, col), ry in zip(col_items, legend_rows):
        fig.add_artist(Line2D([fx(lx), fx(lx + 18)], [fy(ry), fy(ry)], color=col, lw=1.0,
                              transform=fig.transFigure))
        x = lx + 20
        for part, st in zip(parts, ['normal', 'italic', 'normal']):
            if not part:
                continue
            t = fig.text(fx(x), fy(ry + 3.8), part, fontsize=9.2, style=st, ha='left', va='baseline')
            bb = t.get_window_extent(renderer)
            x += bb.width

fig.savefig('out.png', dpi=100)
